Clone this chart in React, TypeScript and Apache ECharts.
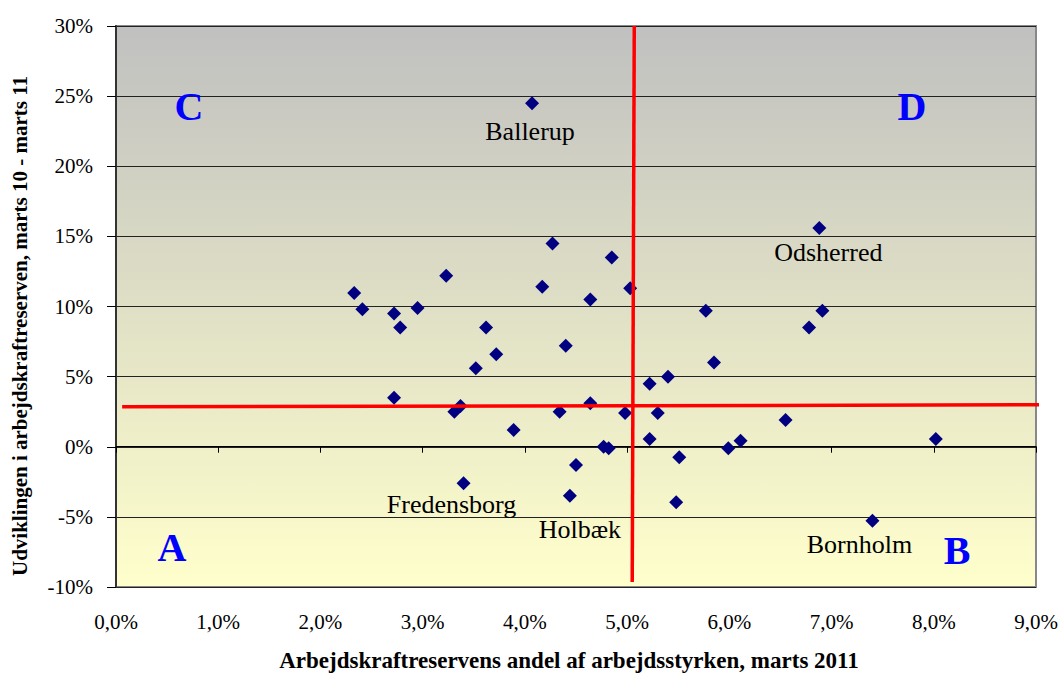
import React, { useEffect, useRef } from "react";
import * as echarts from "echarts";

// Data: [share of labour reserve in workforce (%), change in labour reserve (%)]
const pointsX = [
  4.07, 6.88, 4.27, 4.85, 3.23, 2.33, 2.41, 2.72, 2.95, 2.78, 4.17, 5.03, 4.64, 3.62, 4.40,
  3.72, 3.52, 5.77, 6.91, 6.78, 5.85, 5.40, 5.22, 2.72, 3.37, 3.31, 4.64, 4.34, 4.98, 5.30,
  3.89, 5.22, 4.77, 4.82, 4.50, 3.40, 4.44, 5.51, 5.48, 5.99, 6.11, 6.55, 7.40, 8.02,
];
const pointsY = [
  24.5, 15.6, 14.5, 13.5, 12.2, 10.97, 9.8, 9.5, 9.9, 8.5, 11.4, 11.3, 10.5, 8.5, 7.2,
  6.6, 5.6, 9.7, 9.7, 8.5, 6.0, 5.0, 4.5, 3.5, 2.9, 2.5, 3.1, 2.5, 2.4, 2.4,
  1.2, 0.55, 0.0, -0.1, -1.3, -2.6, -3.5, -0.75, -3.96, -0.1, 0.43, 1.9, -5.27, 0.55,
];
// Named municipalities: index into the points above, label text, label offset
const namedIdx = [0, 1, 35, 36, 42];
const namedText = ["Ballerup", "Odsherred", "Fredensborg", "Holbæk", "Bornholm"];
const namedOffset: [number, number][] = [[-2, 28], [9, 25], [-12, 21], [10, 34], [-13, 24]];

// Reference (average) lines
const hLine: [number, number][] = [[0.06, 2.85], [9.05, 2.99]];
const vLine: [number, number][] = [[5.07, 30], [5.05, -9.64]];

const xTitle = "Arbejdskraftreservens andel af arbejdsstyrken, marts 2011";
const yTitle = "Udviklingen i arbejdskraftreserven, marts 10 - marts 11";
const quadrants = ["A", "B", "C", "D"];

const SERIF = "Liberation Serif";

export default function App() {
  const ref = useRef<HTMLDivElement>(null);
  useEffect(() => {
    document.body.style.margin = "0";
    if (!ref.current) return;
    const chart = echarts.init(ref.current, null, { renderer: "svg" });

    const scatterData = pointsX.map((x, i) => {
      const k = namedIdx.indexOf(i);
      const item: any = { value: [x, pointsY[i]] };
      if (k >= 0) {
        item.label = {
          show: true,
          formatter: namedText[k],
          position: "inside",
          offset: namedOffset[k],
          color: "#000",
          fontFamily: SERIF,
          fontSize: 26,
          align: "center",
          verticalAlign: "middle",
        };
      }
      return item;
    });

    const quadPos: [number, number][] = [[172, 547], [957, 550], [189, 106], [912, 106]];

    chart.setOption({
      animation: false,
      backgroundColor: "#ffffff",
      textStyle: { fontFamily: SERIF },
      grid: {
        left: 116,
        top: 26,
        width: 920,
        height: 561,
        show: true,
        borderColor: "#888888",
        borderWidth: 2,
        backgroundColor: new echarts.graphic.LinearGradient(0, 0, 0, 1, [
          { offset: 0, color: "#c0c0c0" },
          { offset: 1, color: "#ffffcc" },
        ]),
      },
      xAxis: [
        {
          type: "value",
          min: 0,
          max: 9,
          interval: 1,
          axisLine: { show: false },
          axisTick: { show: false },
          splitLine: { show: false },
          axisLabel: {
            margin: 24,
            fontFamily: SERIF,
            fontSize: 21,
            color: "#000",
            formatter: (v: number) => v.toFixed(1).replace(".", ",") + "%",
          },
        },
        {
          type: "value",
          min: 0,
          max: 9,
          interval: 1,
          position: "bottom",
          offset: -140.3,
          axisLine: { show: true, onZero: false, lineStyle: { color: "#000", width: 1 } },
          axisTick: { show: true, length: 6, lineStyle: { color: "#000" } },
          splitLine: { show: false },
          axisLabel: { show: false },
        },
      ],
      yAxis: {
        type: "value",
        min: -10,
        max: 30,
        interval: 5,
        axisLine: { show: true, lineStyle: { color: "#333", width: 2 } },
        axisTick: { show: true, length: 9, lineStyle: { color: "#000" } },
        splitLine: { show: true, lineStyle: { color: "#222", width: 1 } },
        axisLabel: {
          margin: 23,
          fontFamily: SERIF,
          fontSize: 21,
          color: "#000",
          formatter: (v: number) => v + "%",
        },
      },
      series: [
        {
          type: "scatter",
          xAxisIndex: 0,
          symbol: "diamond",
          symbolSize: 14,
          itemStyle: { color: "#000080", opacity: 1 },
          data: scatterData,
          z: 3,
        },
        {
          type: "line",
          xAxisIndex: 0,
          data: hLine,
          symbol: "none",
          clip: false,
          lineStyle: { color: "#ff0000", width: 3.5 },
          z: 5,
        },
        {
          type: "line",
          xAxisIndex: 0,
          data: vLine,
          symbol: "none",
          clip: false,
          lineStyle: { color: "#ff0000", width: 3.5 },
          z: 5,
        },
      ],
      graphic: [
        ...quadrants.map((q, i) => ({
          type: "text",
          x: quadPos[i][0],
          y: quadPos[i][1],
          z: 10,
          style: {
            text: q,
            fill: "#0000ff",
            font: `bold 40px ${SERIF}`,
            align: "center",
            verticalAlign: "middle",
          },
        })),
        {
          type: "text",
          x: 569,
          y: 660,
          style: {
            text: xTitle,
            fill: "#000",
            font: `bold 23px ${SERIF}`,
            align: "center",
            verticalAlign: "middle",
          },
        },
        {
          type: "text",
          x: 20,
          y: 326,
          rotation: Math.PI / 2,
          style: {
            text: yTitle,
            fill: "#000",
            font: `bold 21px ${SERIF}`,
            align: "center",
            verticalAlign: "middle",
          },
        },
      ],
    });
    return () => chart.dispose();
  }, []);
  return <div ref={ref} style={{ width: 1063, height: 673 }} />;
}
